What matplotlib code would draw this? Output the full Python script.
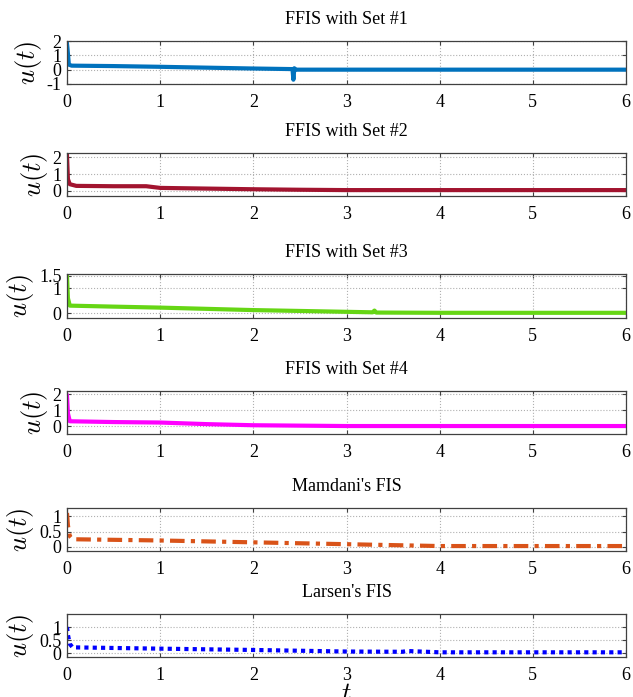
import matplotlib.pyplot as plt
from matplotlib.ticker import FixedLocator, FixedFormatter

plt.rcParams['font.family'] = ['Liberation Serif', 'DejaVu Serif']
plt.rcParams['mathtext.fontset'] = 'cm'

# Control signal u(t)
t_set1 = [0, 0.005, 0.02, 0.05, 0.5, 1.0, 1.5, 2.0, 2.42, 2.43, 2.44, 2.45, 3.0, 4.0, 5.0, 6.0]
u_set1 = [1.8, 1.5, 0.35, 0.28, 0.25, 0.2, 0.14, 0.08, 0.04, -0.7, 0.1, 0.0, 0.0, 0.0, 0.0, 0.0]

t_set2 = [0, 0.01, 0.03, 0.1, 0.5, 0.85, 1.0, 1.5, 2.0, 2.5, 3.0, 4.0, 5.0, 6.0]
u_set2 = [2.1, 0.7, 0.4, 0.3, 0.28, 0.28, 0.18, 0.14, 0.1, 0.07, 0.05, 0.05, 0.05, 0.05]

t_set3 = [0, 0.01, 0.03, 0.5, 1.0, 2.0, 3.0, 3.28, 3.3, 3.32, 4.0, 5.0, 6.0]
u_set3 = [1.5, 0.6, 0.3, 0.26, 0.22, 0.12, 0.05, 0.03, 0.1, 0.02, 0.01, 0.01, 0.01]

t_set4 = [0, 0.01, 0.03, 0.5, 1.0, 1.5, 2.0, 3.0, 4.0, 5.0, 6.0]
u_set4 = [1.9, 0.8, 0.3, 0.25, 0.22, 0.12, 0.05, 0.0, 0.0, 0.0, 0.0]

t_mamdani = [0, 0.01, 0.03, 0.06, 1.0, 2.0, 3.0, 4.0, 5.0, 6.0]
u_mamdani = [1.1, 0.7, 0.35, 0.25, 0.21, 0.15, 0.09, 0.03, 0.03, 0.03]

t_larsen = [0, 0.01, 0.03, 0.06, 1.0, 2.0, 3.0, 3.6, 3.65, 4.0, 5.0, 6.0]
u_larsen = [1.0, 0.7, 0.35, 0.22, 0.17, 0.12, 0.06, 0.05, 0.08, 0.03, 0.03, 0.03]

titles = ['FFIS with Set #1', 'FFIS with Set #2', 'FFIS with Set #3',
          'FFIS with Set #4', "Mamdani's FIS", "Larsen's FIS"]
series_t = [t_set1, t_set2, t_set3, t_set4, t_mamdani, t_larsen]
series_u = [u_set1, u_set2, u_set3, u_set4, u_mamdani, u_larsen]
colors = ['#0072BD', '#A2142F', '#66D614', '#FF00FF', '#D95319', '#0000FF']
styles = ['-', '-', '-', '-', (0, (3.5, 1.5, 1, 1.5)), (0, (1, 1))]

yticks = [[-1, 0, 1, 2], [0, 1, 2], [0, 1, 1.5], [0, 1, 2], [0, 0.5, 1], [0, 0.5, 1]]
ytick_labels = [['-1', '0', '1', '2'], ['0', '1', '2'], ['0', '1', '1.5'],
                ['0', '1', '2'], ['0', '0.5', '1'], ['0', '0.5', '1']]
ylims = [(-1, 2), (-0.3, 2.25), (-0.2, 1.58), (-0.5, 2.2), (-0.13, 1.26), (-0.15, 1.5)]

# axes boxes in pixels: (top, bottom)
boxes = [(41, 84), (153, 196), (274, 318), (391, 434), (508, 551), (614, 657)]

W, H = 633, 697
fig = plt.figure(figsize=(W / 100, H / 100), dpi=100)

left, right = 67, 626
for i in range(6):
    top, bot = boxes[i]
    ax = fig.add_axes([left / W, 1 - bot / H, (right - left) / W, (bot - top) / H])
    ax.plot(series_t[i], series_u[i], color=colors[i], linestyle=styles[i], linewidth=3)
    ax.set_xlim(0, 6)
    ax.set_ylim(*ylims[i])
    ax.set_xticks(range(7))
    ax.yaxis.set_major_locator(FixedLocator(yticks[i]))
    ax.yaxis.set_major_formatter(FixedFormatter(ytick_labels[i]))
    ax.grid(True, linestyle=':', color='#b0b0b0', linewidth=0.8)
    ax.tick_params(direction='in', top=True, right=True, labelsize=13,
                   length=3, width=0.8, color='#404040', pad=7)
    ax.tick_params(axis='y', pad=4)
    for s in ax.spines.values():
        s.set_color('#404040')
        s.set_linewidth(0.9)
    ax.set_title(titles[i], fontsize=13, pad=12)
    ax.set_ylabel('$u(t)$', fontsize=19, labelpad=2)
    if i == 5:
        ax.set_xlabel('$t$', fontsize=19, labelpad=0)

fig.savefig('out.png', dpi=100)
